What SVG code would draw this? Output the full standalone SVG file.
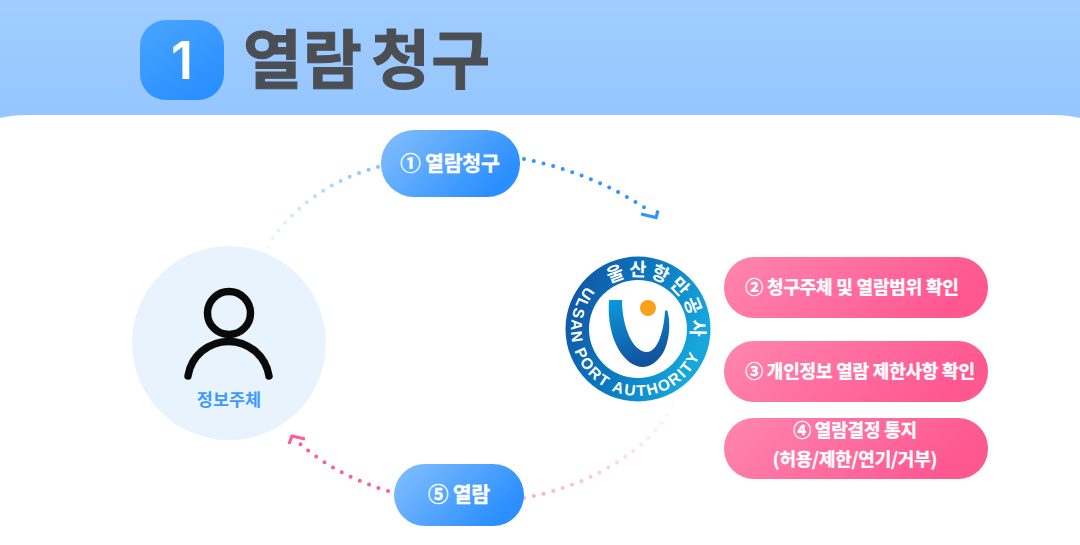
<svg xmlns="http://www.w3.org/2000/svg" width="1080" height="545" viewBox="0 0 1080 545">
<style>
text{font-family:"Noto Sans CJK KR","Noto Sans",sans-serif;font-weight:700}
.pt{fill:#fff;stroke:#fff;stroke-width:.35px;font-size:18px;letter-spacing:-.2px;text-anchor:middle}
.dot{fill:none;stroke-width:4;stroke-linecap:round;stroke-dasharray:0 10}
.chev{fill:none;stroke-width:3.200;stroke-linecap:butt;stroke-linejoin:miter}
</style>
<defs>
<linearGradient id="hdr" x1="0" y1="0" x2="0" y2="1"><stop offset="0" stop-color="#a1cdff"/><stop offset="1" stop-color="#93c5ff"/></linearGradient>
<linearGradient id="blue" x1="0" y1="0" x2="1" y2=".48"><stop offset="0" stop-color="#85c0ff"/><stop offset="1" stop-color="#2b8fff"/></linearGradient>
<linearGradient id="badge" x1="0" y1="0" x2="0.6" y2="1"><stop offset="0" stop-color="#48a4ff"/><stop offset="1" stop-color="#2a90ff"/></linearGradient>
<linearGradient id="pink" x1="0" y1="0" x2="1" y2=".23"><stop offset="0" stop-color="#ff86ae"/><stop offset="1" stop-color="#ff5790"/></linearGradient>
<linearGradient id="fadeB" gradientUnits="userSpaceOnUse" x1="380" y1="167" x2="267" y2="247"><stop offset="0" stop-color="#86bfff"/><stop offset="1" stop-color="#86bfff" stop-opacity=".1"/></linearGradient>
<linearGradient id="fadeP" gradientUnits="userSpaceOnUse" x1="524" y1="498" x2="673" y2="405"><stop offset="0" stop-color="#ffa9c6"/><stop offset="1" stop-color="#ffa9c6" stop-opacity=".08"/></linearGradient>
<linearGradient id="ring" x1="0" y1="0" x2="1" y2="0.4"><stop offset="0" stop-color="#144f9f"/><stop offset="0.55" stop-color="#0a78c0"/><stop offset="1" stop-color="#16a7dd"/></linearGradient>
<linearGradient id="u" x1="0" y1="0" x2="0.3" y2="1"><stop offset="0" stop-color="#0a9bdd"/><stop offset="1" stop-color="#12539f"/></linearGradient>
<path id="ringTop" d="M638 382A53 53 0 1 1 638.100 382" transform="rotate(35 638 329)"/>
<path id="ringBot" d="M638 262A67 67 0 1 0 638.100 262" transform="rotate(31 638 329)"/>
</defs>
<g id="header">
<rect width="1080" height="130" fill="url(#hdr)"/>
<path d="M0 118Q12 115 28 115H1052Q1068 115 1080 118V545H0Z" fill="#fff"/>
<rect x="140" y="20" width="84" height="80" rx="26" fill="url(#badge)"/>
<text x="182" y="79" font-size="52" text-anchor="middle" fill="#fff" style="font-family:Inter,sans-serif;font-weight:600">1</text>
<text x="243" y="83" font-size="64" letter-spacing="1" word-spacing="-7" fill="#4b4f54" stroke="#4b4f54" stroke-width="1">열람 청구</text>
</g>
<g id="connectors">
<path class="dot" stroke="url(#fadeB)" d="M378 167C345 175 295 200 267 247"/>
<path class="dot" stroke="#2f94ff" d="M524 159C570 168 615 187 651 212"/>
<path class="chev" stroke="#2f94ff" d="M641 214L656 217.500L658 210.500"/>
<path class="dot" stroke="url(#fadeP)" d="M524 498C590 486 650 450 673 405"/>
<path class="dot" stroke="#ff5c92" d="M388 491C355 481 325 466 298 442"/>
<path class="chev" stroke="#ff5c92" d="M305 439L292 436L289 444"/>
</g>
<g id="node-subject">
<circle cx="229" cy="343" r="97" fill="#e8f3fe"/>
<circle cx="229" cy="313" r="21.500" fill="none" stroke="#0a0a0a" stroke-width="7.500"/>
<path d="M188 376A41 41 0 0 1 269 376" fill="none" stroke="#0a0a0a" stroke-width="7.500" stroke-linecap="round"/>
<text x="229" y="406" font-size="17.500" text-anchor="middle" fill="#3d9bff">정보주체</text>
</g>
<g id="node-step1">
<rect x="381" y="130" width="139" height="67" rx="33" fill="url(#blue)"/>
<text class="pt" x="450" y="171" style="font-size:20.500px">① 열람청구</text>
</g>
<g id="node-step5">
<rect x="394" y="464" width="130" height="62" rx="31" fill="url(#blue)"/>
<text class="pt" x="459" y="502" style="font-size:20.500px">⑤ 열람</text>
</g>
<g id="node-logo">
<circle cx="638" cy="329" r="72.500" fill="url(#ring)"/>
<circle cx="638" cy="329" r="49" fill="#fff"/>
<path d="M609 300L622 300C622 325 632 352 647 352C658 352 664 330 665 311L667 310C672 325 668 345 663 353C657 362 650 367 643 367C625 367 606 340 609 300Z" fill="url(#u)"/>
<circle cx="648" cy="308" r="8" fill="#f9a11b"/>
<text font-size="18.500" fill="#fff" letter-spacing="3.500"><textPath href="#ringTop" startOffset="50%" text-anchor="middle">울산항만공사</textPath></text>
<text font-size="15.500" fill="#fff" letter-spacing="1.800" style="font-family:'Liberation Sans',sans-serif"><textPath href="#ringBot" startOffset="50%" text-anchor="middle">ULSAN PORT AUTHORITY</textPath></text>
</g>
<g id="node-step2">
<rect x="724" y="257" width="264" height="61" rx="30" fill="url(#pink)"/>
<text class="pt" x="852" y="294">② 청구주체 및 열람범위 확인</text>
</g>
<g id="node-step3">
<rect x="724" y="341" width="264" height="61" rx="30" fill="url(#pink)"/>
<text class="pt" x="860" y="378">③ 개인정보 열람 제한사항 확인</text>
</g>
<g id="node-step4">
<rect x="724" y="418" width="264" height="61" rx="30" fill="url(#pink)"/>
<text class="pt" x="855" y="437">④ 열람결정 통지</text>
<text class="pt" x="855" y="466">(허용/제한/연기/거부)</text>
</g>
</svg>
